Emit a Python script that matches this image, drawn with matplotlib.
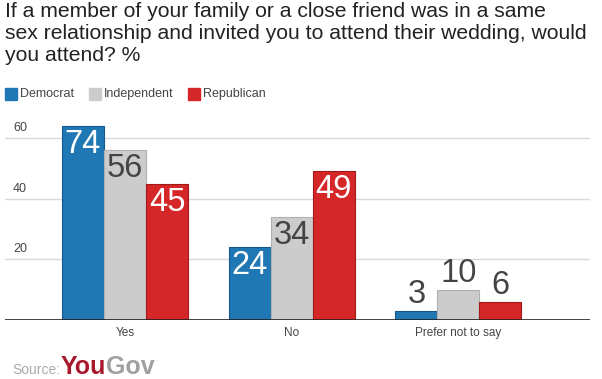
import matplotlib.pyplot as plt
import numpy as np

plt.rcParams['font.family'] = ['Liberation Sans', 'DejaVu Sans']

categories = ["Yes", "No", "Prefer not to say"]
parties = ["Democrat", "Independent", "Republican"]
# printed labels
democrat = [74, 24, 3]
independent = [56, 34, 10]
republican = [45, 49, 6]
# the source chart draws the Democrat "Yes" bar at about 64, not 74
democrat_bar = [64, 24, 3]
yticks = [20, 40, 60]

colors = ["#1f77b4", "#cccccc", "#d62728"]
edges = ["#155a8a", "#b0b0b0", "#a01818"]
label_colors = ["white", "#444444", "white"]

W, H = 602, 379
fig = plt.figure(figsize=(W / 100, H / 100), dpi=100)

# axes in pixel terms: x 5..590, y 118..320
px_per_unit = 3.033
ax = fig.add_axes([5 / W, (H - 320) / H, 585 / W, 202 / H])
ax.set_ylim(0, 202 / px_per_unit)
spacing = 166.7
ax.set_xlim((5 - 125) / spacing, (590 - 125) / spacing)

width = 42 / spacing
x = np.arange(len(categories))
bar_sets = [democrat_bar, independent, republican]
label_sets = [democrat, independent, republican]

for t in yticks:
    ax.axhline(t, color="#d9d9d9", lw=1, zorder=0)
    ax.text(8 / 585, t + 4 / px_per_unit, str(t), transform=ax.get_yaxis_transform(),
            ha="left", va="bottom", fontsize=9, color="#444444")

for i in range(3):
    pos = x + (i - 1) * width
    ax.bar(pos, bar_sets[i], width=width, color=colors[i], edgecolor=edges[i],
           linewidth=0.8, zorder=2, label=parties[i])
    for xp, h, lab in zip(pos, bar_sets[i], label_sets[i]):
        if h > 12:
            ax.text(xp, h - 3 / px_per_unit, str(lab), ha="center", va="top",
                    fontsize=23.5, color=label_colors[i], zorder=3)
        else:
            ax.text(xp, h + 1 / px_per_unit, str(lab), ha="center", va="bottom",
                    fontsize=23.5, color="#444444", zorder=3)

ax.axhline(0, color="#222222", lw=1.2, zorder=4)
for xc, c in zip(x, categories):
    ax.text(xc, -7 / px_per_unit, c, ha="center", va="top", fontsize=8.5, color="#444444")

for s in ax.spines.values():
    s.set_visible(False)
ax.set_xticks([])
ax.set_yticks([])

# title
fig.text(5 / W, 1 - 2 / H,
         "If a member of your family or a close friend was in a same\n"
         "sex relationship and invited you to attend their wedding, would\n"
         "you attend? %",
         ha="left", va="top", fontsize=15.2, color="#222222", linespacing=1.2)

# legend
leg_x = [5, 89, 188]
for lx, p, c in zip(leg_x, parties, colors):
    fig.patches.append(plt.Rectangle((lx / W, 1 - 100 / H), 12 / W, 12 / H,
                                     transform=fig.transFigure, color=c))
    fig.text((lx + 15) / W, 1 - 94 / H, p, ha="left", va="center",
             fontsize=9, color="#444444")

# source
src = fig.text(12 / W, 1 - 374 / H, "Source:", ha="left", va="baseline",
               fontsize=10, color="#aaaaaa")
fig.canvas.draw()
sb = src.get_window_extent()
you = fig.text((sb.x1 + 1) / W, 1 - 374 / H, "You", ha="left", va="baseline",
               fontsize=18, fontweight="bold", color="#a8192e")
fig.canvas.draw()
bb = you.get_window_extent()
fig.text(bb.x1 / W, 1 - 374 / H, "Gov", ha="left", va="baseline",
         fontsize=18, fontweight="bold", color="#a0a0a0")

fig.savefig("out.png", dpi=100)
